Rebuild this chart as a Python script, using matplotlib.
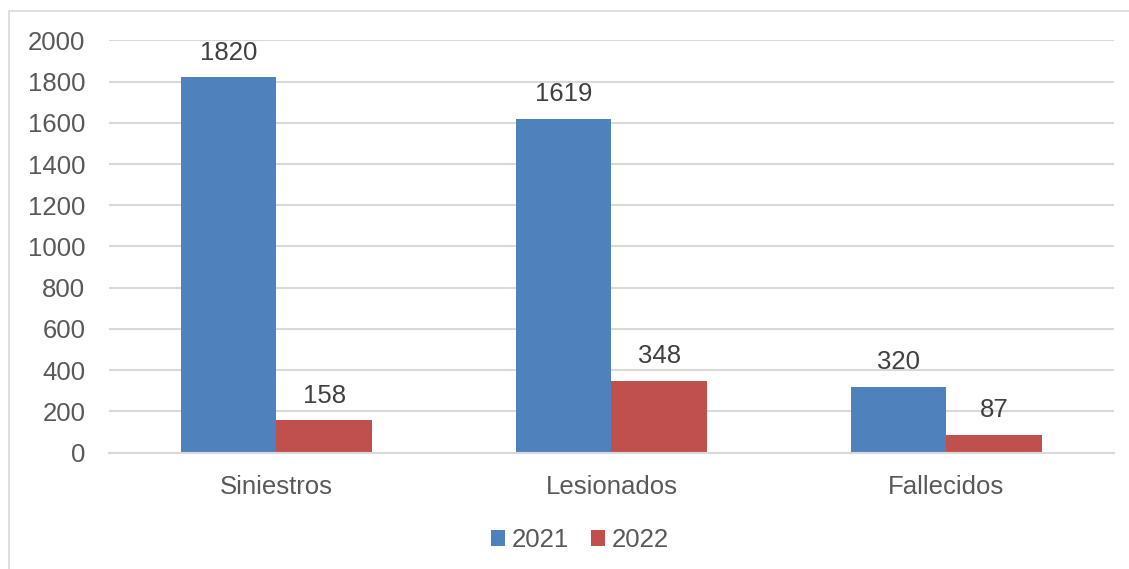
#!/usr/bin/env python

import numpy as np
import matplotlib.pyplot as plt
from matplotlib.patches import Rectangle


categories = ['Siniestros', 'Lesionados', 'Fallecidos']
years = ['2021', '2022']
values_2021 = [1820, 1619, 320]
values_2022 = [158, 348, 87]
y_ticks = [0, 200, 400, 600, 800, 1000, 1200, 1400, 1600, 1800, 2000]


def main():
    plt.rcParams['font.family'] = ['Liberation Sans', 'DejaVu Sans']
    fs = 18.5
    blue = '#4F81BD'
    red = '#C0504D'
    grid = '#D9D9D9'

    fig = plt.figure(figsize=(11.29, 5.69), dpi=100)
    ax = fig.add_axes([0.0965, 0.2044, 0.8902, 0.7248])

    # outer chart frame
    fig.patches.append(Rectangle((9 / 1129, -0.1), 1.2, 1.1 - 11 / 569,
                                 transform=fig.transFigure, fill=False,
                                 edgecolor=grid, linewidth=1.2))

    x = np.arange(len(categories))
    w = 0.285
    b1 = ax.bar(x - w / 2, values_2021, w, color=blue, label=years[0])
    b2 = ax.bar(x + w / 2, values_2022, w, color=red, label=years[1])

    for bars in (b1, b2):
        ax.bar_label(bars, labels=[str(v) for v in bars.datavalues],
                     padding=9, fontsize=fs, color='#404040')

    ax.set_xlim(-0.5, len(categories) - 0.5)
    ax.set_ylim(0, 2000)
    ax.set_yticks(y_ticks)
    ax.set_yticklabels([str(t) for t in y_ticks])
    ax.set_xticks(x)
    ax.set_xticklabels(categories)
    ax.tick_params(axis='both', length=0, labelsize=fs, colors='#595959')
    ax.tick_params(axis='y', pad=17)
    ax.tick_params(axis='x', pad=16)

    ax.grid(True, axis='y', color=grid, linewidth=1.5)
    ax.set_axisbelow(True)
    for s in ('top', 'right', 'left'):
        ax.spines[s].set_visible(False)
    ax.spines['bottom'].set_color(grid)
    ax.spines['bottom'].set_linewidth(1.5)

    leg = fig.legend(handles=[b1, b2], loc='center',
                     bbox_to_anchor=(580 / 1129, 1 - 540 / 569), ncol=2,
                     frameon=False, fontsize=fs, handlelength=0.55,
                     handleheight=0.55, handletextpad=0.25, columnspacing=0.85)
    for t in leg.get_texts():
        t.set_color('#595959')

    fig.savefig('out.png', dpi=100)


if __name__ == '__main__':
    main()
